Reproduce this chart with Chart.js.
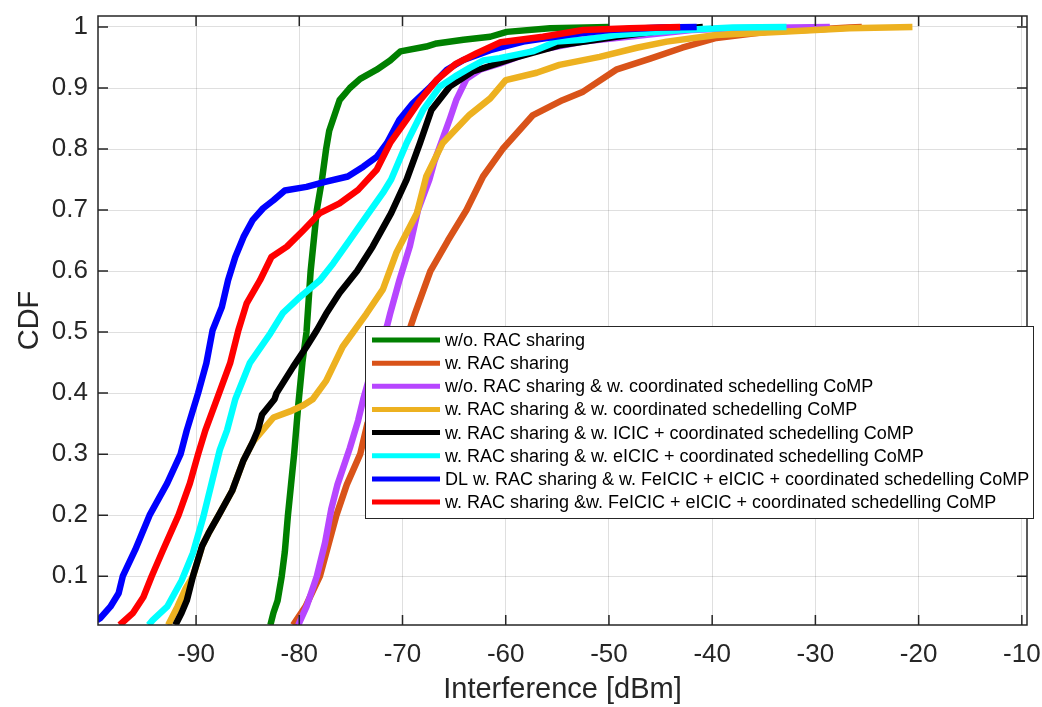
<!DOCTYPE html>
<html>
<head>
<meta charset="utf-8">
<title>CDF interferencia</title>
<script src="https://cdn.jsdelivr.net/npm/chart.js@4/dist/chart.umd.min.js"></script>
<style>
  html, body { margin: 0; padding: 0; background: #fff; }
  #wrap { width: 1042px; height: 707px; }
</style>
</head>
<body>
<div id="wrap"><canvas id="cv" width="1042" height="707"></canvas></div>
<script>
// ---------- Datos (x = interferencia dBm, y = CDF) ----------
var xTicks = [-90, -80, -70, -60, -50, -40, -30, -20, -10];
var yTicks = [0.1, 0.2, 0.3, 0.4, 0.5, 0.6, 0.7, 0.8, 0.9, 1];

var labels = [
  "w/o. RAC sharing",
  "w. RAC sharing",
  "w/o. RAC sharing & w. coordinated schedelling CoMP",
  "w. RAC sharing & w. coordinated schedelling CoMP",
  "w. RAC sharing & w. ICIC + coordinated schedelling CoMP",
  "w. RAC sharing & w. eICIC + coordinated schedelling CoMP",
  "DL w. RAC sharing & w. FeICIC + eICIC + coordinated schedelling CoMP",
  "w. RAC sharing &w. FeICIC + eICIC + coordinated schedelling CoMP"
];
var colors = ["#008000", "#D95319", "#B746FF", "#EDB120", "#000000", "#00FFFF", "#0000FF", "#FF0000"];

var noShare = [[-82.8,0.02],[-82.5,0.04],[-82.1,0.06],[-81.7,0.10],[-81.4,0.14],[-81.1,0.20],[-80.8,0.25],
  [-80.5,0.30],[-80.1,0.38],[-79.7,0.45],[-79.3,0.50],[-78.9,0.60],[-78.3,0.70],[-77.8,0.75],[-77.4,0.80],
  [-77.1,0.83],[-76.1,0.88],[-75.1,0.90],[-74.1,0.915],[-72.5,0.93],[-71.2,0.945],[-70.2,0.96],[-67.7,0.968],
  [-66.7,0.973],[-64.1,0.979],[-61.5,0.984],[-59.9,0.992],[-55.7,0.998],[-50.0,1.0]];
var share = [[-80.6,0.02],[-79.4,0.05],[-78.0,0.10],[-77.2,0.15],[-76.4,0.20],[-75.4,0.25],[-74.1,0.30],
  [-73.4,0.35],[-72.0,0.40],[-70.8,0.45],[-69.2,0.51],[-68.8,0.53],[-67.3,0.60],[-65.6,0.65],[-63.8,0.70],
  [-62.2,0.755],[-60.3,0.80],[-57.4,0.855],[-54.5,0.88],[-52.5,0.894],[-49.3,0.93],[-46.0,0.948],[-42.9,0.966],
  [-39.6,0.982],[-34.7,0.992],[-30.0,0.996],[-26.7,0.999],[-25.5,1.0]];
var noShareCoMP = [[-80.1,0.02],[-79.3,0.05],[-78.3,0.10],[-77.5,0.155],[-76.9,0.21],[-76.3,0.25],[-75.1,0.31],
  [-74.3,0.355],[-73.8,0.39],[-72.8,0.45],[-71.5,0.51],[-71.2,0.53],[-70.3,0.585],[-69.3,0.64],[-68.5,0.70],
  [-67.4,0.75],[-66.9,0.78],[-65.4,0.85],[-64.8,0.88],[-63.8,0.915],[-62.5,0.93],[-60.6,0.94],[-57.4,0.96],
  [-52.5,0.976],[-47.0,0.986],[-42.0,0.995],[-38.0,0.998],[-28.6,1.0]];
var shareCoMP = [[-92.7,0.02],[-91.8,0.05],[-91.0,0.08],[-90.3,0.10],[-89.4,0.15],[-88.8,0.17],[-87.8,0.20],
  [-86.5,0.24],[-85.4,0.29],[-84.5,0.32],[-83.8,0.334],[-82.5,0.36],[-80.9,0.37],[-79.6,0.38],[-78.7,0.39],
  [-77.4,0.42],[-75.8,0.476],[-73.5,0.53],[-71.9,0.57],[-70.6,0.63],[-68.6,0.695],[-67.7,0.755],[-66.1,0.81],
  [-63.5,0.856],[-61.5,0.883],[-60.0,0.913],[-57.0,0.925],[-54.8,0.938],[-50.9,0.951],[-47.3,0.966],
  [-44.4,0.976],[-39.6,0.987],[-33.2,0.992],[-26.7,0.998],[-20.6,1.0]];
var icic = [[-92.0,0.02],[-91.4,0.04],[-90.9,0.06],[-90.3,0.10],[-89.4,0.15],[-88.8,0.17],[-87.8,0.20],
  [-86.5,0.24],[-85.4,0.29],[-84.5,0.32],[-84.0,0.34],[-83.6,0.365],[-82.4,0.39],[-82.2,0.40],[-80.6,0.443],
  [-79.3,0.476],[-78.3,0.503],[-77.4,0.53],[-76.1,0.564],[-74.4,0.60],[-72.9,0.64],[-71.1,0.695],[-69.6,0.75],
  [-68.3,0.81],[-67.2,0.864],[-65.4,0.903],[-63.2,0.927],[-59.0,0.95],[-54.8,0.97],[-49.3,0.984],
  [-44.4,0.995],[-40.9,1.0]];
var eicic = [[-94.6,0.02],[-94.2,0.028],[-92.8,0.05],[-91.4,0.093],[-90.3,0.138],[-89.3,0.197],[-88.5,0.252],
  [-87.7,0.307],[-87.0,0.339],[-86.2,0.39],[-84.8,0.449],[-82.8,0.498],[-81.6,0.531],[-79.9,0.558],
  [-78.0,0.585],[-76.7,0.613],[-75.1,0.651],[-73.2,0.697],[-71.9,0.728],[-71.1,0.75],[-69.6,0.81],
  [-68.0,0.864],[-66.4,0.902],[-64.9,0.919],[-63.5,0.933],[-62.2,0.945],[-60.6,0.949],[-57.4,0.96],
  [-55.1,0.976],[-52.5,0.979],[-49.3,0.987],[-42.9,0.995],[-38.0,0.999],[-32.8,1.0]];
var dlFeicic = [[-99.6,0.028],[-99.3,0.031],[-98.3,0.05],[-97.5,0.072],[-97.1,0.10],[-95.9,0.143],[-94.5,0.20],
  [-92.8,0.252],[-91.5,0.30],[-90.9,0.339],[-89.8,0.40],[-89.0,0.449],[-88.4,0.503],[-87.5,0.541],
  [-86.9,0.585],[-86.2,0.623],[-85.4,0.656],[-84.5,0.684],[-83.5,0.703],[-82.5,0.716],[-81.4,0.732],
  [-79.3,0.738],[-77.5,0.746],[-75.3,0.755],[-73.8,0.771],[-72.5,0.787],[-71.5,0.81],[-70.3,0.848],
  [-69.0,0.875],[-67.3,0.902],[-65.7,0.93],[-64.1,0.946],[-61.5,0.962],[-58.3,0.976],[-54.1,0.987],
  [-50.0,0.995],[-45.0,0.999],[-41.5,1.0]];
var feicic = [[-97.4,0.02],[-96.1,0.04],[-95.1,0.066],[-94.3,0.10],[-93.2,0.143],[-91.7,0.20],[-90.6,0.252],
  [-89.8,0.30],[-89.1,0.339],[-87.9,0.394],[-86.7,0.449],[-85.9,0.503],[-85.1,0.547],[-83.8,0.585],
  [-82.7,0.623],[-81.2,0.64],[-79.6,0.667],[-78.0,0.695],[-76.1,0.711],[-74.3,0.733],[-72.5,0.766],
  [-71.2,0.81],[-69.6,0.848],[-68.3,0.88],[-66.7,0.913],[-64.8,0.94],[-62.8,0.957],[-60.5,0.975],
  [-56.4,0.984],[-52.5,0.995],[-48.0,0.998],[-43.1,1.0]];

var series = [noShare, share, noShareCoMP, shareCoMP, icic, eicic, dlFeicic, feicic];

// ---------- Plugin: caja de ejes con ticks hacia dentro ----------
var boxPlugin = {
  id: "matlabBox",
  afterDatasetsDraw: function (chart) {
    var ctx = chart.ctx, a = chart.chartArea;
    var sx = chart.scales.x, sy = chart.scales.y, L = 10;
    ctx.save();
    ctx.strokeStyle = "#262626";
    ctx.lineWidth = 1.5;
    ctx.strokeRect(a.left, a.top, a.right - a.left, a.bottom - a.top);
    ctx.beginPath();
    xTicks.forEach(function (v) {
      var px = sx.getPixelForValue(v);
      ctx.moveTo(px, a.bottom); ctx.lineTo(px, a.bottom - L);
      ctx.moveTo(px, a.top); ctx.lineTo(px, a.top + L);
    });
    yTicks.forEach(function (v) {
      var py = sy.getPixelForValue(v);
      ctx.moveTo(a.left, py); ctx.lineTo(a.left + L, py);
      ctx.moveTo(a.right, py); ctx.lineTo(a.right - L, py);
    });
    ctx.stroke();
    ctx.restore();
  }
};

// ---------- Plugin: leyenda dentro del área ----------
var legendPlugin = {
  id: "boxLegend",
  afterDraw: function (chart) {
    var ctx = chart.ctx;
    var x0 = 365, y0 = 326, w = 668, h = 192, step = 23.15;
    ctx.save();
    ctx.fillStyle = "#fff";
    ctx.fillRect(x0, y0, w, h);
    ctx.strokeStyle = "#262626";
    ctx.lineWidth = 1;
    ctx.strokeRect(x0 + 0.5, y0 + 0.5, w, h);
    ctx.font = "18px 'Liberation Sans', Arial, sans-serif";
    ctx.textBaseline = "middle";
    chart.data.datasets.forEach(function (ds, i) {
      var y = y0 + 14 + i * step;
      ctx.strokeStyle = ds.borderColor;
      ctx.lineWidth = 5;
      ctx.beginPath();
      ctx.moveTo(x0 + 7, y); ctx.lineTo(x0 + 75, y);
      ctx.stroke();
      ctx.fillStyle = "#000";
      ctx.fillText(ds.label, x0 + 80, y + 1);
    });
    ctx.restore();
  }
};

var datasets = series.map(function (pts, i) {
  return {
    label: labels[i],
    data: pts.map(function (p) { return { x: p[0], y: p[1] }; }),
    borderColor: colors[i],
    backgroundColor: colors[i],
    borderWidth: 6.5,
    pointRadius: 0,
    tension: 0,
    fill: false,
    borderJoinStyle: "round",
    order: series.length - i
  };
});

var tickFont = { family: "'Liberation Sans', Arial, sans-serif", size: 26 };
var titleFont = { family: "'Liberation Sans', Arial, sans-serif", size: 29 };
var gridColor = "rgba(38,38,38,0.15)";

new Chart(document.getElementById("cv"), {
  type: "line",
  data: { datasets: datasets },
  options: {
    responsive: false,
    animation: false,
    layout: { padding: { top: 16, right: 15, left: 0, bottom: 0 } },
    plugins: { legend: { display: false }, tooltip: { enabled: false } },
    scales: {
      x: {
        type: "linear",
        min: -99.5, max: -9.5,
        afterBuildTicks: function (s) { s.ticks = xTicks.map(function (v) { return { value: v }; }); },
        afterFit: function (s) { s.height = 82; s.paddingLeft = 0; s.paddingRight = 0; },
        grid: { color: gridColor, drawTicks: false },
        border: { display: false },
        ticks: { font: tickFont, color: "#262626", padding: 14, maxRotation: 0 },
        title: { display: true, text: "Interference [dBm]", font: titleFont, color: "#262626", padding: { top: 3, bottom: 0 } }
      },
      y: {
        type: "linear",
        min: 0.02, max: 1.018,
        afterBuildTicks: function (s) { s.ticks = yTicks.map(function (v) { return { value: v }; }); },
        afterFit: function (s) { s.width = 98; s.paddingTop = 0; s.paddingBottom = 0; },
        grid: { color: gridColor, drawTicks: false },
        border: { display: false },
        ticks: {
          font: tickFont, color: "#262626", padding: 10,
          callback: function (v) { return String(v); }
        },
        title: { display: true, text: "CDF", font: titleFont, color: "#262626", padding: { top: 13, bottom: 4 } }
      }
    }
  },
  plugins: [boxPlugin, legendPlugin]
});
</script>
</body>
</html>
